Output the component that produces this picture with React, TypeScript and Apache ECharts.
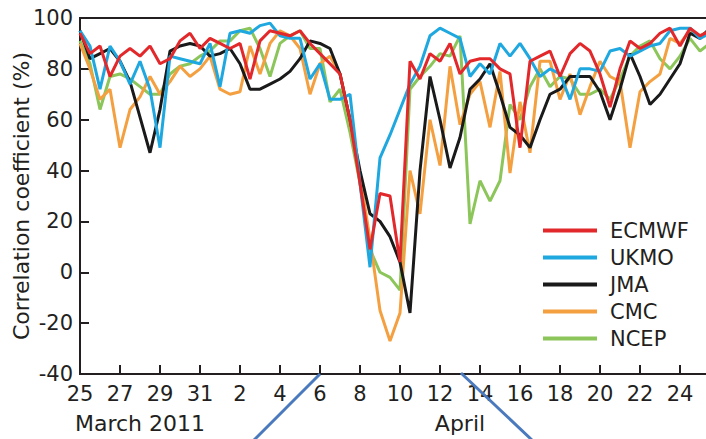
import React, { useEffect, useRef } from "react";
import * as echarts from "echarts";

// 12-hourly correlation coefficients (%), starting 25 March 2011 00Z
const ecmwf = [94,86,89,77,85,88,85,89,82,84, 91,94,88,92,90,88,90,76,91,95, 94,93,95,90,86,82,78,60,35,9, 31,30,4,83,76,86,83,90,78,83, 84,84,80,78,49,83,85,87,77,86, 90,87,78,65,80,91,88,90,94,96, 89,96,93,95];
const ukmo = [95,89,72,89,83,74,83,72,49,85, 84,83,82,90,73,94,95,94,97,98, 93,92,92,76,82,68,68,70,35,2, 45,54,64,74,81,93,96,94,92,77, 82,78,90,85,90,84,77,80,78,68, 80,80,79,87,88,85,87,89,90,95, 96,96,92,94];
const jma = [95,84,86,88,83,75,61,47,64,87, 89,90,89,85,86,88,82,72,72,74, 76,79,84,91,90,88,78,60,40,23, 20,14,4,-16,40,77,60,41,53,72, 76,82,70,57,54,49,60,70,72,77, 77,77,71,60,72,86,77,66,70,76, 82,94,92,96];
const cmc = [90,80,68,72,49,64,69,77,70,75, 81,77,80,85,72,70,71,89,78,90, 95,93,88,70,82,85,78,60,38,13, -15,-27,-16,40,23,60,42,81,58,70, 75,57,79,39,67,47,83,83,68,78, 62,73,83,77,75,49,71,75,78,92, 90,95,93,95];
const ncep = [91,82,64,77,78,76,73,70,70,78, 81,82,85,87,91,91,95,96,88,77, 90,93,95,88,88,67,72,55,35,9, 0,-2,-7,72,77,81,86,85,93,19, 36,28,36,66,60,73,80,73,77,76, 70,70,72,68,76,85,89,91,84,80, 85,92,87,90];

const legendOrder = ["ECMWF", "UKMO", "JMA", "CMC", "NCEP"];
const monthLabels = ["March 2011", "April"];
const yAxisTitle = "Correlation coefficient (%)";
const STEP_DAYS = 0.5; // observations every 12 h

const FONT = '"DejaVu Sans", sans-serif';
const TEXT = "#231f20";

export default function App() {
  const ref = useRef<HTMLDivElement>(null);
  useEffect(() => {
    if (!ref.current) return;
    const chart = echarts.init(ref.current, null, { renderer: "svg" });
    const toPairs = (arr: number[]) => arr.map((v, i) => [i * STEP_DAYS, v]);
    const mk = (name: string, data: number[], color: string) => ({
      name,
      type: "line",
      data: toPairs(data),
      symbol: "none",
      lineStyle: { color, width: 3 },
      itemStyle: { color },
    });
    chart.setOption({
      animation: false,
      grid: {
        left: 80,
        top: 18,
        width: 640,
        bottom: 65,
        show: true,
        borderColor: TEXT,
        borderWidth: 2,
        outerBoundsMode: "none",
        containLabel: false,
      },
      legend: {
        data: legendOrder,
        orient: "vertical",
        left: 538,
        top: 212,
        itemWidth: 54,
        itemHeight: 4,
        itemGap: 0,
        icon: "rect",
        textStyle: {
          fontFamily: FONT,
          fontSize: 21,
          color: TEXT,
          lineHeight: 27,
          padding: [0, 0, 0, 8],
        },
      },
      xAxis: {
        type: "value",
        min: 0,
        max: 32,
        interval: 2,
        axisLine: { onZero: false, lineStyle: { color: TEXT, width: 2 } },
        axisTick: { inside: true, length: 9, lineStyle: { color: TEXT, width: 2 } },
        splitLine: { show: false },
        axisLabel: {
          fontFamily: FONT,
          fontSize: 21,
          color: TEXT,
          margin: 9,
          showMaxLabel: false,
          formatter: (v: number) => String(v < 7 ? 25 + v : v - 6),
        },
      },
      yAxis: {
        type: "value",
        min: -40,
        max: 100,
        interval: 20,
        name: yAxisTitle,
        nameLocation: "middle",
        nameRotate: 90,
        nameGap: 59,
        nameMoveOverlap: false,
        nameTextStyle: { fontFamily: FONT, fontSize: 22, color: TEXT, verticalAlign: "middle" },
        axisLine: { show: true, onZero: false, lineStyle: { color: TEXT, width: 2 } },
        axisTick: { show: true, inside: true, length: 9, lineStyle: { color: TEXT, width: 2 } },
        splitLine: { show: false },
        axisLabel: { fontFamily: FONT, fontSize: 21, color: TEXT, margin: 7 },
      },
      series: [
        mk("NCEP", ncep, "#8cc65a"),
        mk("CMC", cmc, "#f4a041"),
        mk("JMA", jma, "#1a1a1a"),
        mk("UKMO", ukmo, "#1fa8e0"),
        mk("ECMWF", ecmwf, "#e2282b"),
      ],
      graphic: [
        {
          type: "text",
          x: 140,
          y: 423,
          style: { text: monthLabels[0], font: `22px ${FONT}`, fill: TEXT, align: "center", verticalAlign: "middle", lineHeight: 24 },
        },
        {
          type: "text",
          x: 460,
          y: 423,
          style: { text: monthLabels[1], font: `22px ${FONT}`, fill: TEXT, align: "center", verticalAlign: "middle", lineHeight: 24 },
        },
        {
          type: "line",
          shape: { x1: 320, y1: 374, x2: 254, y2: 440 },
          style: { stroke: "#4a79bd", lineWidth: 3 },
          z: 100,
        },
        {
          type: "line",
          shape: { x1: 461, y1: 373, x2: 532, y2: 440 },
          style: { stroke: "#4a79bd", lineWidth: 3 },
          z: 100,
        },
      ],
    });
    return () => chart.dispose();
  }, []);
  return (
    <div
      ref={ref}
      style={{ position: "absolute", left: 0, top: 0, width: 706, height: 439, background: "#fff" }}
    />
  );
}
